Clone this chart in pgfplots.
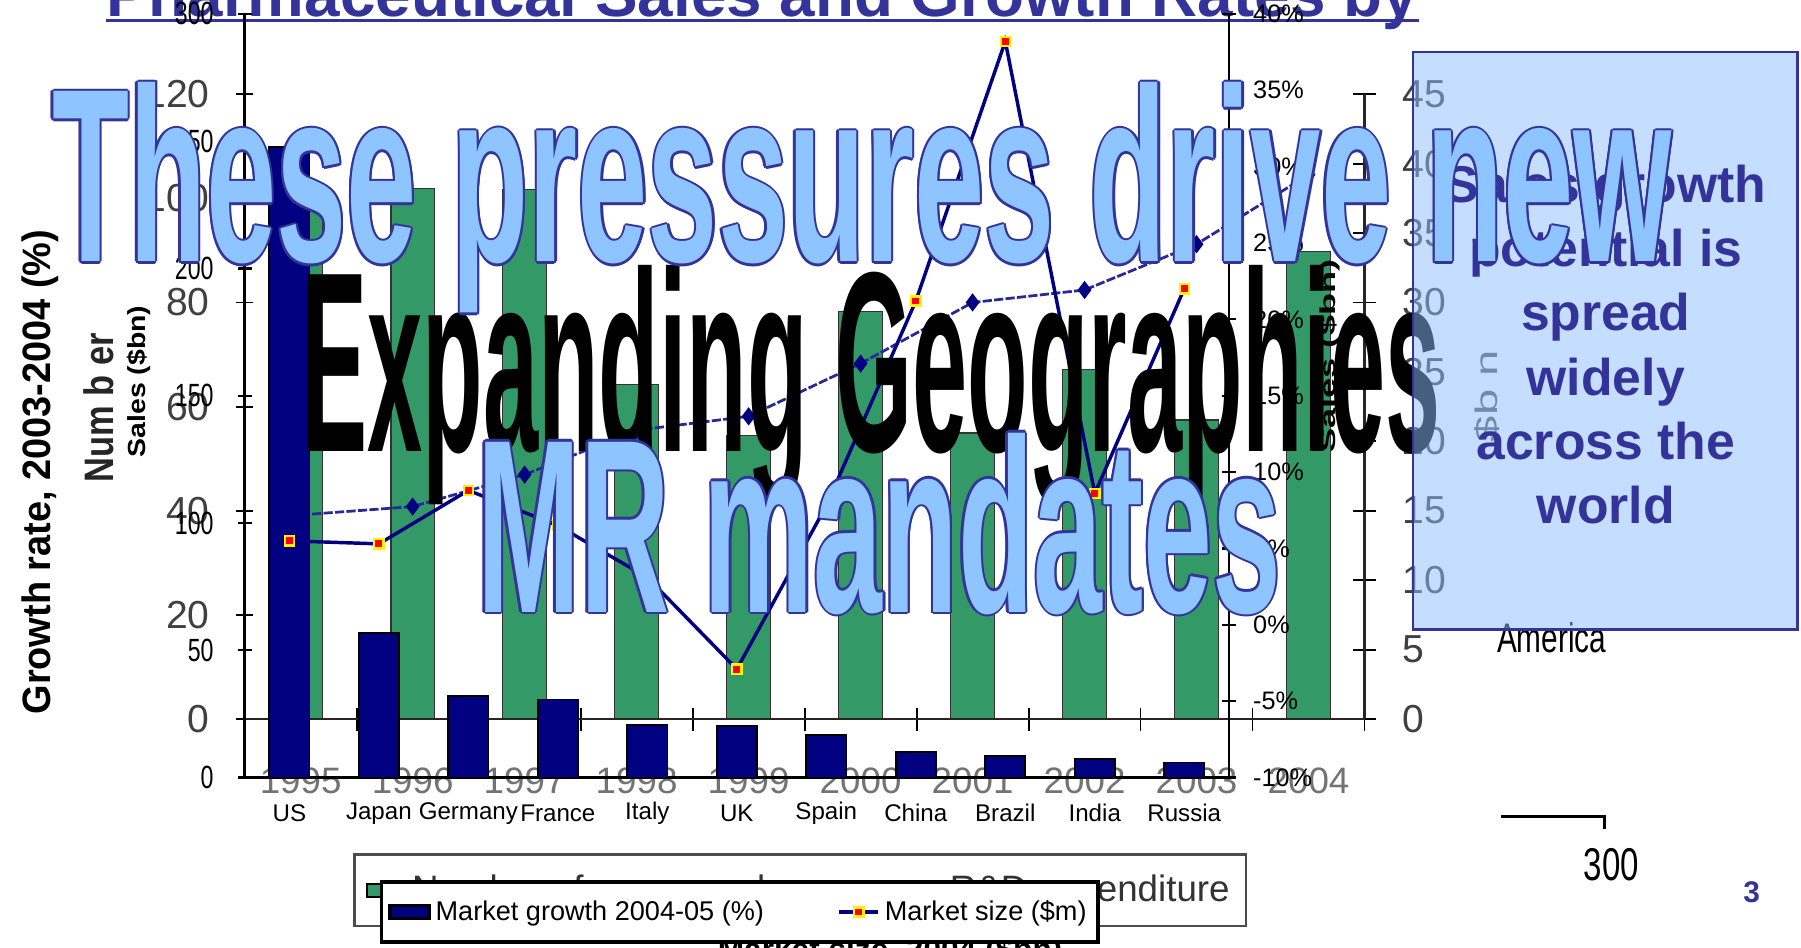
\documentclass[border=0pt]{standalone}
\usepackage{fontspec}
\setmainfont{Liberation Sans}
\newfontfamily\narrowfont[FakeStretch=0.72]{Liberation Sans}
\usepackage{graphicx}
\usepackage{pgfplots}
\pgfplotsset{compat=1.18}
\pgfplotsset{/pgf/number format/assume math mode=true}
\definecolor{navyb}{RGB}{0,0,128}
\definecolor{grn}{RGB}{51,153,102}
\definecolor{dblue}{RGB}{51,51,153}
\definecolor{lblue}{RGB}{142,196,255}
\definecolor{boxblue}{RGB}{140,190,255}
\definecolor{rdline}{RGB}{40,40,150}
\newcommand\fs[1]{\fontsize{#1}{#1}\selectfont}
\newcommand\outltext[5]{%
  \foreach \dx/\dy in {-1/0,1/0,0/-1,0/1,-0.7/-0.7,0.7/0.7,-0.7/0.7,0.7/-0.7}{%
    \node[anchor=base west, inner sep=0, text=dblue, xshift=\dx pt, yshift=\dy pt] at (#1,#2) {\resizebox{#3}{#4}{\bfseries #5}};}
  \node[anchor=base west, inner sep=0, text=lblue] at (#1,#2) {\resizebox{#3}{#4}{\bfseries #5}};}
\begin{document}
\begin{tikzpicture}[x=0.5pt,y=0.5pt]
\useasboundingbox (0,0) rectangle (1568,825);
\clip (0,0) rectangle (1568,825);
% title (cut off at the top)
\node[anchor=base west, inner sep=0, text=dblue] at (92,811) {\resizebox{571pt}{!}{\bfseries Pharmaceutical Sales and Growth Rates by}};
\draw[dblue, line width=1.5pt] (92,807) -- (1235,807);
% text peeking below the legend
\node[anchor=north, inner sep=0] at (775,10) {\resizebox{150pt}{!}{\bfseries Market size, 2004 (\$bn)}};

% ---------- Chart A: years ----------
\begin{axis}[at={(106.5pt,99.5pt)}, anchor=south west, scale only axis,
  width=487.5pt, height=272pt,
  xmin=-0.5, xmax=9.5, ymin=0, ymax=120,
  axis y line*=left, axis x line*=bottom,
  axis line style={-, black!85, line width=1pt},
  ytick={0,20,...,120}, tick align=center, major tick length=7.5pt,
  ytick style={black, line width=0.8pt},
  yticklabel style={font=\fs{17}, text=black!75, xshift=-8pt},
  xtick={0,...,9}, xticklabels={1995,1996,1997,1998,1999,2000,2001,2002,2003,2004},
  xtick style={draw=none},
  xticklabel style={font=\fs{16}, text=black!55, anchor=center, yshift=-23pt}]
\addplot[ybar, bar width=19pt, fill=grn, draw=black!80, line width=0.6pt]
  coordinates {(0,100) (1,101.9) (2,101.7) (3,64.2) (4,54.5) (5,78.3) (6,54.9) (7,67.1) (8,57.4) (9,89.8)};
\end{axis}
\begin{axis}[at={(106.5pt,99.5pt)}, anchor=south west, scale only axis,
  width=487.5pt, height=272pt,
  xmin=-0.5, xmax=9.5, ymin=0, ymax=45,
  axis y line*=right, axis x line*=bottom,
  axis line style={-, black!85, line width=1pt},
  ytick={0,5,...,45}, tick align=center, major tick length=10pt,
  ytick style={black, line width=0.8pt},
  yticklabel style={font=\fs{17}, text=black!75, xshift=8pt},
  xtick={-0.5,0.5,1.5,2.5,3.5,4.5,5.5,6.5,7.5,8.5,9.5}, xticklabel={\relax},
  xtick style={black, line width=0.8pt},
  legend columns=2,
  legend style={at={(0.496,-0.274)}, anchor=center, draw=black!70, line width=1pt,
    fill=white, font=\fs{16}, text=black!80, inner ysep=7pt, inner xsep=5pt,
    /tikz/every even column/.append style={column sep=50pt}}]
\addlegendimage{area legend, fill=grn, draw=black}
\addlegendentry{Number of compounds}
\addplot[rdline, line width=1.2pt, dash pattern=on 4pt off 1pt, mark=diamond*, mark size=3pt,
  mark options={solid, fill=navyb, draw=navyb}]
  coordinates {(0,14.7) (1,15.3) (2,17.6) (3,20.8) (4,21.8) (5,25.6) (6,30.0) (7,30.9) (8,34.2) (9,39.2)};
\addlegendentry{R\&D expenditure}
\end{axis}

% ---------- Chart B: countries ----------
\begin{axis}[at={(106.5pt,74pt)}, anchor=south west, scale only axis,
  width=428.5pt, height=332.5pt,
  xmin=-0.5, xmax=10.5, ymin=0, ymax=300,
  axis y line*=left, axis x line*=bottom,
  axis line style={-, black, line width=1.5pt},
  ytick={0,50,...,300}, tick align=center, major tick length=6pt,
  ytick style={black, line width=1pt},
  yticklabel style={font=\narrowfont\fs{14}, xshift=-7pt},
  xtick={0,...,10}, xticklabels={US,Japan,Germany,France,Italy,UK,Spain,China,Brazil,India,Russia},
  xtick style={draw=none},
  xticklabel style={font=\fs{10.5}, anchor=center, yshift=-12.5pt}]
\addplot[ybar, bar width=17.5pt, fill=navyb, draw=black, line width=0.8pt]
  coordinates {(0,247.6) (1,56.8) (2,32.0) (3,30.7) (4,20.7) (5,20.3) (6,16.7) (7,9.9) (8,8.6) (9,7.2) (10,5.9)};
\end{axis}
\begin{axis}[at={(106.5pt,74pt)}, anchor=south west, scale only axis,
  width=428.5pt, height=332.5pt,
  xmin=-0.5, xmax=10.5, ymin=-10, ymax=40,
  axis y line*=right, axis x line=none,
  axis line style={-, black, line width=1.2pt},
  ytick={-10,-5,...,40}, tick align=center, major tick length=6pt,
  ytick style={black, line width=1pt},
  yticklabel={\pgfmathprintnumber{\tick}\%},
  yticklabel style={font=\fs{11}, xshift=4pt},
  legend columns=2, legend cell align=left,
  legend style={at={(0.503,-0.176)}, anchor=center, draw=black, line width=1.5pt,
    fill=white, font=\fs{11.8}, inner ysep=6pt,
    /tikz/every even column/.append style={column sep=30pt}}]
\addlegendimage{area legend, fill=navyb, draw=black}
\addlegendentry{Market growth 2004-05 (\%)}
\addplot[navyb, line width=1.5pt, mark=square*, mark size=2pt,
  mark options={solid, fill=red, draw=yellow, line width=1pt}]
  coordinates {(0,5.5) (1,5.3) (2,8.8) (3,6.5) (4,3.1) (5,-2.9) (6,7.8) (7,21.2) (8,38.2) (9,8.6) (10,22.0)};
\addlegendentry{Market size (\$m)}
\end{axis}

% ---------- axis titles ----------
\node[anchor=base, rotate=90, inner sep=0] at (44,414) {\resizebox{211pt}{12.5pt}{\bfseries Growth rate, 2003-2004 (\%)}};
\node[anchor=base, rotate=90, inner sep=0, text=black!85] at (99,470) {\resizebox{65pt}{13pt}{\bfseries Num b er}};
\node[anchor=base, rotate=90, inner sep=0] at (127,493) {\resizebox{66pt}{8pt}{\bfseries Sales (\$bn)}};
\node[anchor=base, rotate=90, inner sep=0] at (1163,515) {\resizebox{84pt}{7pt}{\bfseries Sales (\$bn)}};
\node[anchor=base, rotate=90, inner sep=0, text=black!65] at (1304,480) {\resizebox{40pt}{10pt}{\$b n}};
\node[anchor=base west, inner sep=0, font=\narrowfont\fs{18}] at (1303,257) {America};

% ---------- big headline ----------
\node[anchor=base west, inner sep=0] at (262,432) {\resizebox{496pt}{81pt}{\bfseries Expanding Geographies}};

% ---------- call-out box ----------
\draw[dblue, line width=1pt, fill=boxblue, fill opacity=0.5] (1230,780) rectangle (1565,277);
\node[align=center, text=dblue, font=\bfseries\fontsize{22.5}{28}\selectfont] at (1398,525)
  {Sales growth\\potential is\\spread\\widely\\across the\\world};

\outltext{45}{597}{705pt}{78pt}{These pressures drive new}
\outltext{415}{292}{350pt}{78pt}{MR mandates}

% ---------- loose marks ----------
\draw[black, line width=1.5pt] (1307,114) -- (1397,114) -- (1397,103);
\node[anchor=base, inner sep=0, font=\narrowfont\fs{20}] at (1403,58) {300};
\node[anchor=base, inner sep=0, text=dblue, font=\bfseries\fs{13}] at (1525,39) {3};
\end{tikzpicture}
\end{document}
